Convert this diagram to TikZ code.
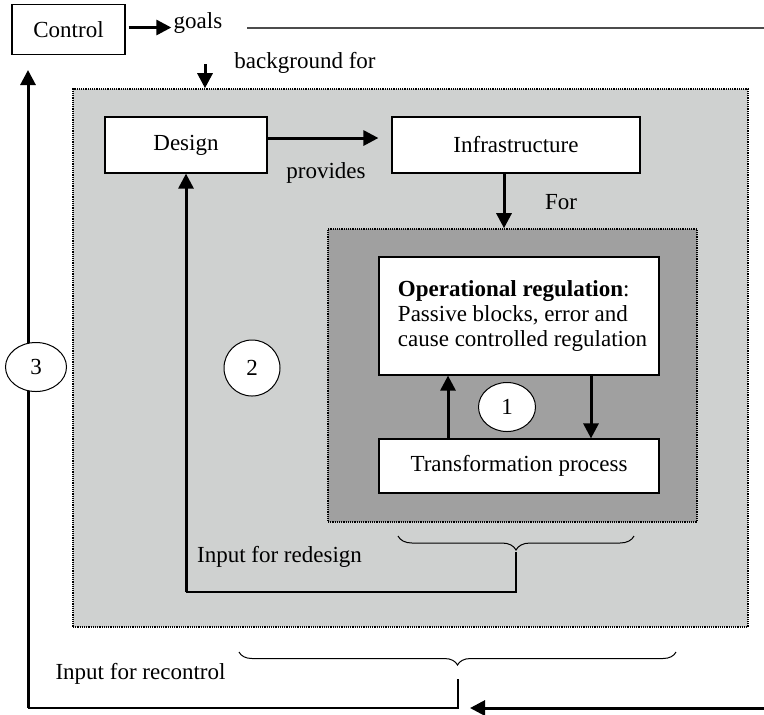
\documentclass[tikz,border=0pt]{standalone}
\usepackage{fontspec}
\setmainfont{Liberation Serif}
\usetikzlibrary{arrows.meta,shapes.geometric,decorations.pathreplacing}
\definecolor{lightzone}{HTML}{CFD1D0}
\definecolor{darkzone}{HTML}{A0A0A0}

\begin{document}
\begin{tikzpicture}
			[x=0.5pt,y=-0.5pt,
			every node/.style={font=\fontsize{11.5}{12.3}\selectfont},
			box/.style={draw,fill=white,line width=0.6pt,inner sep=0pt},
			zone/.style={draw,line width=0.8pt,dash pattern=on 0.6pt off 0.5pt,inner sep=0pt},
			flow/.style={line width=1.5pt,-{Triangle[length=7.5pt,width=7.5pt]}},
			link/.style={line width=0.6pt},
			loopmark/.style={draw,ellipse,line width=0.5pt,inner sep=0pt,fill=white},
			bracedown/.style={decorate,decoration={brace,mirror,amplitude=7pt},line width=0.5pt}]
			\useasboundingbox (0,0) rectangle (764,714);
			% zones
			\node[zone,fill=lightzone,minimum width=337.5pt,minimum height=269pt] (outer) at (410.5,358) {};
			\node[zone,fill=darkzone,minimum width=184.5pt,minimum height=146.5pt] (inner) at (512.5,375.5) {};
			% blocks
			\node[box,minimum width=56.5pt,minimum height=25pt] (ctrl) at (68.5,29.5) {Control};
			\node[box,minimum width=81pt,minimum height=28pt] (design) at (186,145) {Design};
			\node[box,minimum width=124pt,minimum height=28pt] (infra) at (516,145) {Infrastructure};
			\node[box,minimum width=140pt,minimum height=59pt,align=left] (oper) at (519,316)
				{\hspace*{3.5pt}\textbf{Operational regulation}:\\\hspace*{3.5pt}Passive blocks, error and\\\hspace*{3.5pt}cause controlled regulation};
			\node[box,minimum width=140pt,minimum height=27pt] (trans) at (519,466) {Transformation process};
			% labels
			\node[inner sep=1pt] (goals) at (198,23) {goals};
			\node (bgfor) at (305,63) {background for};
			\node (provides) at (326,173) {provides};
			\node (for) at (561,202) {For};
			\node (redesign) at (279.5,557) {Input for redesign};
			\node (recontrol) at (140.5,674) {Input for recontrol};
			% braces
			\coordinate (b1l) at (398,536);
			\coordinate (b1r) at (634,536);
			\coordinate (b1tip) at (516,552);
			\coordinate (b2l) at (239,652);
			\coordinate (b2r) at (676,652);
			\coordinate (b2tip) at (458,679);
			\draw[bracedown] (b1l) -- (b1r);
			\draw[bracedown,decoration={amplitude=6.5pt}] (b2l) -- (b2r);
			% connectors
			\coordinate (gl) at (247,28);
			\coordinate (gr) at (764,28);
			\coordinate (bgtop) at (205,64);
			\coordinate (rd) at (186,592);
			\coordinate (rc) at (28,708);
			\coordinate (ctrlin) at (28,70);
			\coordinate (feedin) at (764,708);
			\coordinate (feedend) at (470,708);
			\draw[flow] ([xshift=1.5pt,yshift=1pt]ctrl.east) -- ([yshift=1pt]ctrl.east -| goals.west);
			\draw[line width=0.8pt,black!70] (gl) -- (gr);
			\draw[flow] (bgtop) -- (bgtop |- outer.north);
			\draw[flow,shorten >=6.5pt] ([yshift=3.5pt]design.east) -- ([yshift=3.5pt]infra.west);
			\draw[flow] ([xshift=-6pt]infra.south) -- ([xshift=-6pt]infra.south |- inner.north);
			\draw[flow] ([xshift=-35.5pt]trans.north) -- ([xshift=-35.5pt]oper.south);
			\draw[flow] ([xshift=36pt]oper.south) -- ([xshift=36pt]trans.north);
			\draw[link] (b1tip) |- (rd);
			\draw[flow] (rd) -- (design.south);
			\draw[link] (b2tip) |- (rc);
			\draw[flow] (rc) -- (ctrlin);
			\draw[flow] (feedin) -- (feedend);
			% loops
			\node[loopmark,minimum width=28.5pt,minimum height=24.5pt] (loop1) at (507,407) {1};
			\node[loopmark,circle,minimum size=28pt] (loop2) at (252,368) {2};
			\node[loopmark,minimum width=30.5pt,minimum height=24.5pt] (loop3) at (36,367) {3};
		\end{tikzpicture}
\end{document}
